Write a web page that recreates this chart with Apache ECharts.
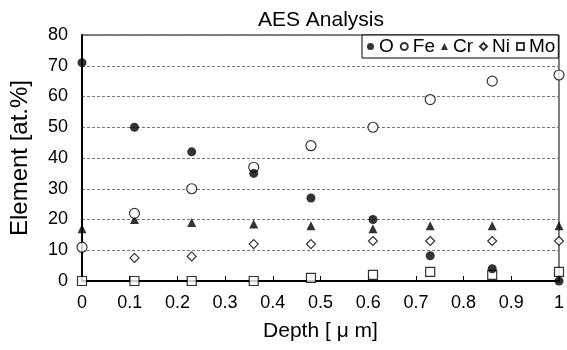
<!DOCTYPE html>
<html><head><meta charset="utf-8">
<script src="https://cdn.jsdelivr.net/npm/echarts@6/dist/echarts.min.js"></script>
<style>html,body{margin:0;padding:0;background:#fff}#c{width:567px;height:350px}</style>
</head><body><div id="c"></div>
<script>
const depth = [0, 0.11, 0.23, 0.36, 0.48, 0.61, 0.73, 0.86, 1.0];
const O  = [71, 50, 42, 35, 27, 20, 8.2, 4, 0];
const Fe = [11, 22, 30, 37, 44, 50, 59, 65, 67];
const Cr = [17, 20, 19, 18.5, 18, 17, 18, 18, 18];
const Ni = [null, 7.5, 8, 12, 12, 13, 13, 13, 13];
const Mo = [0, 0, 0, 0, 1, 2, 3, 2, 3];
const xTicks = ['0','0.1','0.2','0.3','0.4','0.5','0.6','0.7','0.8','0.9','1'];

const FONT = '"Liberation Sans", Arial, sans-serif';
function pts(ys){ return depth.map((x,i)=> ys[i]==null ? null : [x, ys[i]]).filter(p=>p); }
function ser(name, data, symbol, size, filled){
  return {
    name, type:'scatter', data: pts(data), symbol, symbolSize: size, clip:false, z:5,
    itemStyle: filled ? {color:'#000', borderColor:'#000', borderWidth:0}
                      : {color:'#fff', borderColor:'#000', borderWidth:1.2},
    emphasis:{disabled:true}
  };
}
const chart = echarts.init(document.getElementById('c'));
chart.setOption({
  animation:false,
  backgroundColor:'#fff',
  title:{text:'AES Analysis', left:316, textAlign:'center', top:5,
    textStyle:{fontFamily:FONT, fontSize:21, fontWeight:'normal', color:'#000'}},
  legend:{
    left:362, top:35, padding:[2,3,2,5], itemGap:6, itemWidth:7, itemHeight:7,
    borderColor:'#000', borderWidth:1, backgroundColor:'#fff',
    textStyle:{fontFamily:FONT, fontSize:19, color:'#000', padding:[0,0,0,0]},
    data:['O','Fe','Cr','Ni','Mo']
  },
  grid:{left:81, right:5, top:35, bottom:69, show:true, borderColor:'#000', borderWidth:1, backgroundColor:'transparent'},
  xAxis:{
    type:'value', min:0, max:1, interval:0.1,
    name:'Depth [ μ m]', nameLocation:'middle', nameGap:40,
    nameTextStyle:{fontFamily:FONT, fontSize:21, color:'#000'},
    axisLine:{show:true, lineStyle:{color:'#000', width:2}},
    axisTick:{show:true, inside:true, length:5, lineStyle:{color:'#000'}},
    axisLabel:{fontFamily:FONT, fontSize:18, color:'#000', margin:13,
      formatter:(v)=> xTicks[Math.round(v*10)]},
    splitLine:{show:false}
  },
  yAxis:{
    type:'value', min:0, max:80, interval:10,
    name:'Element [at.%]', nameLocation:'middle', nameGap:50,
    nameTextStyle:{fontFamily:FONT, fontSize:24, color:'#000'},
    axisLine:{show:true, lineStyle:{color:'#000', width:2}},
    axisTick:{show:false},
    axisLabel:{fontFamily:FONT, fontSize:18, color:'#000', margin:14},
    splitLine:{show:true, lineStyle:{color:'#777', type:[3,2], width:1}}
  },
  series:[
    ser('Mo', Mo, 'rect', 9, false),
    ser('Ni', Ni, 'diamond', 9, false),
    ser('Cr', Cr, 'triangle', 9, true),
    ser('Fe', Fe, 'circle', 10, false),
    ser('O', O, 'circle', 9, true)
  ]
});
</script></body></html>
